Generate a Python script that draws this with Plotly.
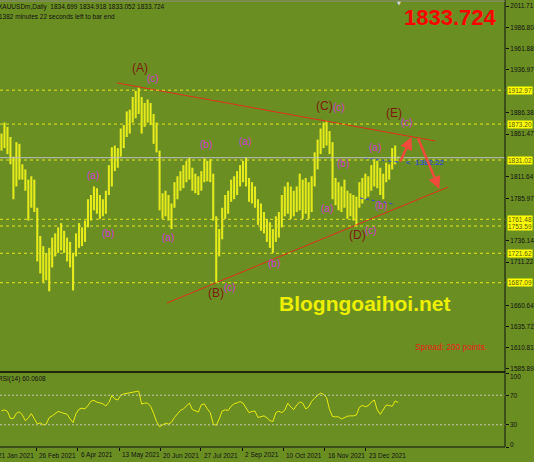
import plotly.graph_objects as go

# ---------------- data ----------------
highs = [1862,1875,1870,1858,1835,1852,1850,1826,1820,1808,
         1812,1808,1775,1742,1730,1722,1728,1740,1745,1752,
         1757,1748,1740,1735,1722,1745,1757,1752,1760,1785,
         1790,1800,1798,1790,1785,1795,1825,1846,1848,1845,
         1868,1872,1888,1890,1905,1912,1916,1905,1898,1902,
         1898,1885,1875,1842,1792,1795,1790,1780,1805,1812,
         1818,1825,1830,1834,1822,1815,1812,1818,1833,1830,
         1832,1815,1765,1750,1775,1790,1795,1808,1812,1818,
         1825,1830,1834,1810,1805,1800,1785,1780,1770,1762,
         1758,1750,1765,1770,1790,1800,1805,1800,1795,1800,
         1815,1808,1810,1805,1812,1840,1855,1868,1875,1877,
         1865,1852,1810,1805,1800,1808,1795,1792,1790,1788,
         1805,1810,1815,1812,1825,1832,1830,1822,1815,1828,
         1826,1845,1848,1835]
lows = [1842,1845,1838,1826,1785,1800,1808,1808,1795,1760,
        1775,1770,1712,1698,1688,1690,1677,1705,1718,1722,
        1725,1722,1712,1705,1678,1718,1728,1730,1735,1752,
        1760,1772,1768,1762,1765,1768,1790,1800,1818,1822,
        1835,1845,1858,1862,1875,1880,1885,1862,1870,1875,
        1872,1850,1840,1772,1762,1765,1760,1750,1775,1785,
        1795,1798,1805,1808,1795,1792,1790,1795,1805,1806,
        1805,1760,1687,1718,1738,1762,1768,1782,1785,1790,
        1800,1805,1800,1782,1780,1775,1755,1748,1745,1735,
        1728,1722,1735,1740,1752,1765,1768,1762,1765,1770,
        1772,1762,1768,1762,1770,1800,1820,1838,1845,1848,
        1838,1785,1778,1772,1770,1775,1762,1765,1760,1753,
        1775,1780,1785,1788,1795,1800,1798,1790,1785,1805,
        1808,1820,1826,1833]
rsi = [48.9,50.2,48.1,38.6,38.6,45.5,47.6,43.3,35.6,39.5,
       45.1,38.6,31.3,32.6,30.0,30.9,39.9,42.1,45.1,48.1,
       46.8,45.5,44.2,38.0,33.0,45.0,51.1,52.4,51.5,56.2,
       61.8,63.1,60.5,59.7,58.4,55.4,60.1,69.6,64.8,63.6,
       70.0,71.7,72.6,73.0,73.9,74.3,75.6,58.0,59.3,59.3,
       55.0,45.5,34.3,27.4,30.0,32.2,30.9,33.5,39.9,45.5,
       49.4,51.5,55.0,59.3,50.6,48.9,47.2,57.1,58.4,51.5,
       46.4,31.3,29.2,37.8,48.5,50.2,49.4,55.0,58.4,59.7,
       61.4,59.3,52.4,46.4,48.1,48.5,39.9,41.2,42.1,39.5,
       35.6,34.3,46.4,48.5,46.4,49.8,59.3,54.1,50.6,56.7,
       61.0,59.3,51.5,54.1,61.8,66.1,70.0,73.0,70.9,67.0,
       50.6,41.2,40.8,40.8,37.8,39.9,41.6,42.1,42.1,43.3,
       53.7,56.2,54.5,55.8,60.5,63.6,50.2,44.2,49.8,56.7,
       56.2,54.9,62.3,60.1]

date_pos = [-2.07, 11.73, 25.5, 39.5, 53.17, 66.83, 80.67, 94.5, 108.33, 122.17]
date_labels = ["21 Jan 2021", "26 Feb 2021", "6 Apr 2021", "13 May 2021", "20 Jun 2021",
               "27 Jul 2021", "2 Sep 2021", "10 Oct 2021", "16 Nov 2021", "23 Dec 2021"]

price_ticks = [2011.71, 1986.80, 1961.88, 1936.97, 1886.38, 1861.47, 1811.64,
               1785.97, 1736.14, 1711.22, 1660.64, 1635.72, 1610.81, 1585.89]
levels = [1912.97, 1873.20, 1831.02, 1761.48, 1753.59, 1721.62, 1687.09]
bid = 1833.724
rsi_levels = [70, 30]
rsi_labels = [100, 70, 30, 0]

upper_tl_x, upper_tl_y = [38.8, 145.5], [1921.4, 1853.3]
lower_tl_x, lower_tl_y = [55.5, 149.8], [1663.3, 1799.4]
arrows = [((133.5, 1827.5), (137.5, 1858.0)), ((139.5, 1858.0), (146.8, 1797.0))]
blue_lines = [([121.8, 132.8], [1833.4, 1828.7]), ([120.2, 131.2], [1786.5, 1779.4])]

wave_big = [("(A)", 46.5, 1939.0), ("(B)", 71.8, 1675.0), ("(C)", 108.3, 1894.4),
            ("(D)", 119.5, 1743.1), ("(E)", 131.5, 1886.2)]
wave_small = [("(c)", 50.8, 1927.2), ("(a)", 30.8, 1812.3), ("(b)", 35.8, 1745.4),
              ("(a)", 55.8, 1740.7), ("(b)", 68.5, 1849.8), ("(a)", 81.8, 1852.2),
              ("(c)", 76.6, 1680.9), ("(b)", 91.5, 1710.2), ("(c)", 113.3, 1892.1),
              ("(c)", 136.0, 1875.6), ("(a)", 125.2, 1846.3), ("(b)", 114.5, 1827.5),
              ("(a)", 109.2, 1774.7), ("(b)", 127.2, 1777.1), ("(c)", 124.0, 1748.9)]

# ---------------- styles ----------------
BG = "#6b8e23"
BAR = "#e4ea1c"
FONT = "Liberation Sans"
MAIN_BOTTOM = 0.170
RSI_TOP = 0.1655
PLOT_W = 508.0
PLOT_H = 447.0

# high-low bars as vertical segments
seg_x, seg_y = [], []
for i, (h, l) in enumerate(zip(highs, lows)):
    seg_x += [i, i, None]
    seg_y += [l, h, None]

fig = go.Figure()
fig.add_trace(go.Scatter(x=seg_x, y=seg_y, mode="lines", line=dict(color=BAR, width=2.1),
                         xaxis="x", yaxis="y", hoverinfo="skip"))
fig.add_trace(go.Scatter(x=list(range(len(rsi))), y=rsi, mode="lines",
                         line=dict(color="#e8ec10", width=1), xaxis="x", yaxis="y2",
                         hoverinfo="skip"))
for xs, ys in [(upper_tl_x, upper_tl_y), (lower_tl_x, lower_tl_y)]:
    fig.add_trace(go.Scatter(x=xs, y=ys, mode="lines", line=dict(color="#e0301c", width=1),
                             xaxis="x", yaxis="y", hoverinfo="skip"))
for xs, ys in blue_lines:
    fig.add_trace(go.Scatter(x=xs, y=ys, mode="lines",
                             line=dict(color="#2a44e8", width=1, dash="dot"),
                             xaxis="x", yaxis="y", hoverinfo="skip"))

shapes = []
for lv in levels:
    shapes.append(dict(type="line", xref="paper", x0=0, x1=1, yref="y", y0=lv, y1=lv,
                       line=dict(color="#e6e61e", width=1, dash="3px,3px")))
shapes.append(dict(type="line", xref="paper", x0=0, x1=1, yref="y", y0=bid, y1=bid,
                   line=dict(color="#c0c0c0", width=1)))
for lv in rsi_levels:
    shapes.append(dict(type="line", xref="paper", x0=0, x1=1, yref="y2", y0=lv, y1=lv,
                       line=dict(color="#c9cca8", width=1, dash="2px,2px")))
shapes.append(dict(type="line", xref="paper", x0=0, x1=1, yref="paper", y0=0.1678, y1=0.1678,
                   line=dict(color="#1e280a", width=2)))
shapes.append(dict(type="line", xref="paper", x0=0, x1=1, yref="paper", y0=0, y1=0,
                   line=dict(color="#111111", width=1)))
shapes.append(dict(type="line", xref="paper", x0=1, x1=1, yref="paper", y0=0, y1=1,
                   line=dict(color="#111111", width=1)))
shapes.append(dict(type="line", xref="paper", x0=0, x1=1, yref="paper", y0=0.9975, y1=0.9975,
                   line=dict(color="#8c8c7c", width=1)))

ann = []
ann.append(dict(text="XAUUSDm,Daily  1834.699 1834.918 1833.052 1833.724", xref="paper", yref="paper",
                x=0, y=1, xanchor="left", yanchor="middle", xshift=-4, yshift=-7, showarrow=False,
                font=dict(family=FONT, size=6.5, color="#111111")))
ann.append(dict(text="1382 minutes 22 seconds left to bar end", xref="paper", yref="paper",
                x=0, y=1, xanchor="left", yanchor="middle", xshift=-3, yshift=-16, showarrow=False,
                font=dict(family=FONT, size=6.5, color="#111111")))
ann.append(dict(text="RSI(14) 60.0608", xref="paper", yref="paper", x=0, y=RSI_TOP,
                xanchor="left", yanchor="middle", xshift=-4, yshift=-6, showarrow=False,
                font=dict(family=FONT, size=6.5, color="#111111")))
ann.append(dict(text="<b>1833.724</b>", xref="paper", yref="paper", x=502 / PLOT_W, y=1 - 17 / PLOT_H,
                xanchor="right", yanchor="middle", showarrow=False,
                font=dict(family=FONT, size=22, color="#ff0000")))
ann.append(dict(text="▼", xref="paper", yref="paper", x=401 / PLOT_W, y=1 - 3 / PLOT_H,
                xanchor="center", yanchor="middle", showarrow=False,
                font=dict(family="DejaVu Sans", size=5, color="#d8d8d8")))
ann.append(dict(text="<b>Blogngoaihoi.net</b>", xref="paper", yref="paper", x=367 / PLOT_W,
                y=1 - 303 / PLOT_H, xanchor="center", yanchor="middle", showarrow=False,
                font=dict(family=FONT, size=21, color="#ecf000")))
ann.append(dict(text="Spread: 200 points.", xref="paper", yref="paper", x=415 / PLOT_W,
                y=1 - 347 / PLOT_H, xanchor="left", yanchor="middle", showarrow=False,
                font=dict(family=FONT, size=8.3, color="#e8221a")))
for lv in levels:
    ann.append(dict(text=f"{lv:.2f}", xref="paper", yref="y", x=1, y=lv, xanchor="left",
                    yanchor="middle", xshift=2, showarrow=False, bgcolor="#ffff00", borderpad=0,
                    font=dict(family=FONT, size=6.5, color="#555500")))
for lv in rsi_labels:
    sh = -3 if lv == 100 else (3 if lv == 0 else 0)
    ann.append(dict(text=str(lv), xref="paper", yref="y2", x=1, y=lv, xanchor="left",
                    yanchor="middle", xshift=3, yshift=sh, showarrow=False,
                    font=dict(family=FONT, size=6.5, color="#111111")))
x_lo, x_hi = -0.5, 168.83
for p, t in zip(date_pos, date_labels):
    ann.append(dict(text=t, xref="paper", yref="paper", x=(p - x_lo) / (x_hi - x_lo), y=0,
                    xanchor="left", yanchor="middle", xshift=1, yshift=-8, showarrow=False,
                    font=dict(family=FONT, size=6.5, color="#111111")))
for t, x, y in wave_big:
    ann.append(dict(text=t, xref="x", yref="y", x=x, y=y, showarrow=False,
                    font=dict(family=FONT, size=12, color="#7a1c0e")))
for t, x, y in wave_small:
    ann.append(dict(text=t, xref="x", yref="y", x=x, y=y, showarrow=False,
                    font=dict(family=FONT, size=10, color="#d23cd2")))
ann.append(dict(text="<  1382.22", xref="x", yref="y", x=134.8, y=1828.7, xanchor="left",
                yanchor="middle", showarrow=False,
                font=dict(family=FONT, size=8, color="#2040f0")))
for (x0, y0), (x1, y1) in arrows:
    ann.append(dict(text="", xref="x", yref="y", x=x1, y=y1, axref="x", ayref="y", ax=x0, ay=y0,
                    showarrow=True, arrowhead=2, arrowsize=1, arrowwidth=2.5,
                    arrowcolor="#f04a3a"))

fig.update_layout(
    width=534, height=462,
    margin=dict(l=0, r=26, t=0, b=15),
    paper_bgcolor=BG, plot_bgcolor=BG,
    showlegend=False,
    shapes=shapes, annotations=ann,
    xaxis=dict(domain=[0, 1], range=[x_lo, x_hi], anchor="y2", showgrid=False,
               zeroline=False, showline=False, tickvals=date_pos[1:], showticklabels=False,
               ticks="outside", ticklen=3, tickcolor="#111111"),
    yaxis=dict(domain=[MAIN_BOTTOM, 1], range=[1583.5, 2018.75], side="right", anchor="x",
               showgrid=False, zeroline=False, showline=False,
               tickvals=price_ticks, ticktext=[f"{v:.2f}" for v in price_ticks],
               ticks="outside", ticklen=3, tickcolor="#111111",
               tickfont=dict(family=FONT, size=6.5, color="#111111")),
    yaxis2=dict(domain=[0, RSI_TOP], range=[0, 100], side="right", anchor="x",
                showgrid=False, zeroline=False, showline=False,
                tickvals=rsi_labels, showticklabels=False,
                ticks="outside", ticklen=3, tickcolor="#111111"),
)

fig.write_html("out.html", config={"displayModeBar": False},
               post_script="document.body.style.margin='0';")
